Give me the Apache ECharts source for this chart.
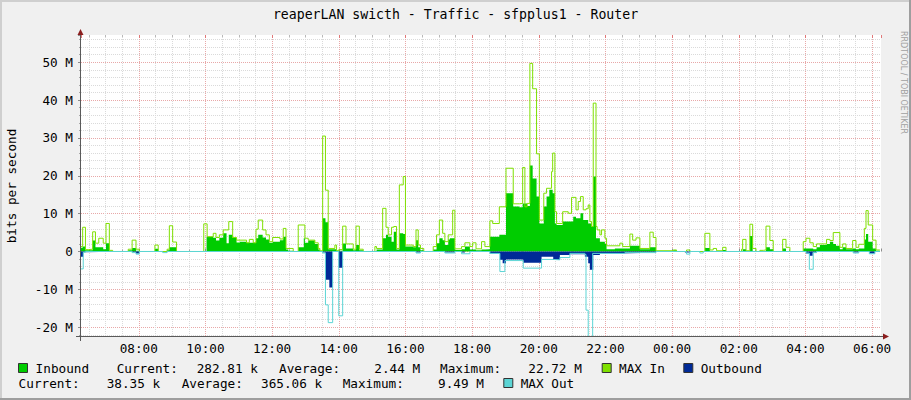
<!DOCTYPE html>
<html>
<head>
<meta charset="utf-8">
<script src="https://cdn.jsdelivr.net/npm/echarts@6/dist/echarts.min.js"></script>
<style>
html,body{margin:0;padding:0;background:#F0F0F0;}
#c{width:911px;height:400px;}
</style>
</head>
<body>
<div id="c"></div>
<script>
// ---------- data ----------
const TITLE = 'reaperLAN swicth - Traffic - sfpplus1 - Router';
const Y_NAME = 'bits per second';
const xTickLabels = ['08:00','10:00','12:00','14:00','16:00','18:00','20:00','22:00','00:00','02:00','04:00','06:00'];
const yTickLabels = ['-20 M','-10 M','0','10 M','20 M','30 M','40 M','50 M'];
const legendNames = ['Inbound','MAX In','Outbound','MAX Out'];
const statLabels = ['Current:','Average:','Maximum:'];
const inboundStats = ['282.81 k','2.44 M','22.72 M'];
const outboundStats = ['38.35 k','365.06 k','9.49 M'];

// step series: [clock time, value in Mbit/s]; each value holds until the next time
const inbound = [['06:16',1.0],['06:19',1.3],['06:24',0.3],['06:37',2.9],['06:42',1.1],['06:56',0.6],['07:01',2.2],['07:07',0.2],['07:13',0],['07:41',0.3],['07:48',0.9],['07:55',0.2],['08:01',0],['08:29',0.7],['08:35',0],['08:51',0.3],['08:55',1.1],['09:08',0],['10:02',3.9],['10:14',3.6],['10:19',2.9],['10:25',3.6],['10:32',4.8],['10:38',2.2],['10:42',4.4],['10:49',3.6],['10:56',2.4],['11:02',2.6],['11:14',2.3],['11:31',3.5],['11:35',4.4],['11:43',3.7],['11:49',3.2],['11:55',2.3],['12:01',2.6],['12:14',3.0],['12:20',3.9],['12:25',0.5],['12:29',0.2],['12:38',0],['12:47',1.1],['12:57',3.5],['12:59',2.3],['13:05',2.9],['13:17',2.0],['13:23',0.5],['13:26',0.1],['13:31',8.8],['13:36',7.7],['13:41',0.6],['13:56',0.2],['14:07',2.1],['14:13',0.8],['14:26',0.3],['14:31',1.7],['14:37',0.3],['14:44',0],['15:08',0.5],['15:19',3.5],['15:25',4.4],['15:29',3.9],['15:35',2.6],['15:39',5.2],['15:44',0.5],['15:49',4.8],['15:56',4.6],['16:00',1.3],['16:14',1.1],['16:19',3.0],['16:23',1.1],['16:27',0.3],['16:33',0],['16:50',0.5],['16:56',2.2],['17:01',3.5],['17:07',3.0],['17:11',1.7],['17:17',3.2],['17:20',3.5],['17:29',0.4],['17:41',0.6],['17:47',1.3],['17:56',0.5],['18:07',0.3],['18:17',0.5],['18:23',0.6],['18:32',3.9],['18:49',4.4],['19:01',15.4],['19:14',11.9],['19:25',11.7],['19:31',12.7],['19:39',12.0],['19:44',22.7],['19:49',19.3],['19:56',14.5],['20:01',7.4],['20:09',11.9],['20:14',14.5],['20:19',16.3],['20:25',15.4],['20:29',7.4],['20:32',7.0],['20:43',7.9],['21:02',9.2],['21:07',8.8],['21:15',10.1],['21:20',8.3],['21:29',7.4],['21:35',6.6],['21:38',19.8],['21:43',3.5],['21:50',2.6],['21:59',2.0],['22:02',0.6],['22:17',0.8],['22:44',1.5],['23:02',0.6],['23:20',1.1],['23:31',0],['00:02',0.3],['00:07',0],['00:59',0.9],['01:08',0.1],['01:31',0.4],['01:37',0],['02:07',0.6],['02:13',0],['02:20',4.1],['02:25',0.1],['02:31',0],['02:49',1.1],['02:56',0.6],['03:02',0],['03:19',0.8],['03:25',0.1],['03:32',0],['03:56',0.8],['04:14',0.6],['04:20',1.1],['04:26',1.7],['04:38',2.0],['04:44',2.6],['04:50',2.0],['04:55',1.5],['05:02',0.6],['05:07',1.1],['05:13',0.6],['05:25',0.8],['05:31',0.6],['05:36',0.8],['05:46',3.2],['05:49',4.6],['05:53',2.6],['06:01',0.8],['06:07',0.2],['06:14',0.2]];

const maxIn = [['06:16',1.3],['06:19',6.4],['06:24',0.5],['06:29',0.6],['06:37',5.2],['06:42',2.2],['06:48',3.5],['06:56',2.2],['07:01',7.4],['07:07',0.3],['07:13',0],['07:41',0.6],['07:48',3.0],['07:55',0.6],['08:01',0],['08:29',1.7],['08:35',0],['08:51',0.6],['08:55',6.8],['09:01',2.5],['09:08',0],['09:57',7.3],['10:03',3.9],['10:14',4.8],['10:19',3.7],['10:25',4.4],['10:32',5.7],['10:42',7.9],['10:49',3.7],['10:56',3.0],['11:14',2.3],['11:19',3.2],['11:26',2.3],['11:31',5.9],['11:35',8.3],['11:43',5.7],['11:49',4.4],['11:55',2.6],['12:01',3.7],['12:14',3.3],['12:20',6.1],['12:25',0.8],['12:38',0],['12:47',7.0],['12:59',3.5],['13:05',3.0],['13:17',2.3],['13:23',0.8],['13:26',0.2],['13:31',30.5],['13:36',16.2],['13:41',0.8],['13:53',1.7],['13:56',0.2],['14:00',0.5],['14:07',6.7],['14:13',2.0],['14:26',0.6],['14:31',6.7],['14:37',0.6],['14:44',0],['15:05',1.3],['15:08',0.8],['15:19',11.4],['15:25',6.4],['15:29',4.4],['15:35',6.4],['15:39',6.6],['15:44',0.8],['15:49',17.6],['15:56',19.8],['16:00',1.7],['16:14',1.3],['16:19',5.7],['16:23',1.7],['16:27',0.8],['16:33',0],['16:50',1.3],['16:56',4.4],['17:01',8.3],['17:07',4.8],['17:11',2.6],['17:17',4.4],['17:25',10.9],['17:29',0.7],['17:41',1.3],['17:47',2.3],['17:56',1.3],['18:01',2.3],['18:07',0.7],['18:17',2.6],['18:23',1.3],['18:32',8.1],['18:37',7.4],['18:49',11.8],['19:01',22.0],['19:14',12.6],['19:25',12.7],['19:31',22.2],['19:35',11.8],['19:39',12.7],['19:44',49.7],['19:49',43.0],['19:56',25.8],['20:01',8.3],['20:09',15.4],['20:14',16.7],['20:23',21.1],['20:25',26.0],['20:29',10.5],['20:32',7.4],['20:43',10.5],['20:53',10.1],['20:59',14.3],['21:07',11.0],['21:11',13.2],['21:15',14.5],['21:20',11.0],['21:25',11.3],['21:29',12.3],['21:32',7.9],['21:35',6.6],['21:38',39.2],['21:43',6.6],['21:45',5.7],['21:50',4.4],['21:53',5.7],['21:59',3.5],['22:02',1.5],['22:26',2.2],['22:31',1.3],['22:44',4.6],['22:49',3.0],['22:55',3.6],['23:02',0.8],['23:20',5.1],['23:26',3.7],['23:31',0.2],['00:02',0.4],['00:08',0],['00:26',0.4],['00:32',0],['00:59',4.8],['01:08',0.4],['01:14',0.8],['01:20',0.2],['01:31',1.1],['01:37',0],['02:05',0.6],['02:07',3.2],['02:13',0.2],['02:20',7.2],['02:25',0.8],['02:31',0],['02:38',0.3],['02:44',0.4],['02:49',6.7],['02:56',2.9],['03:02',0],['03:19',3.2],['03:25',1.1],['03:32',0],['03:56',2.6],['04:01',3.5],['04:08',2.3],['04:14',1.3],['04:20',2.0],['04:38',3.2],['04:44',2.9],['04:50',5.0],['05:02',1.1],['05:07',2.0],['05:13',0.8],['05:25',2.9],['05:31',1.1],['05:36',1.9],['05:46',6.1],['05:49',10.8],['05:53',7.0],['06:01',3.0],['06:07',0.4],['06:14',0.4]];

const outbound = [['06:16',-1.4],['06:20',-0.2],['06:24',-0.1],['07:13',0],['07:48',-0.2],['07:55',-0.5],['08:01',0],['13:31',-0.3],['13:36',-7.5],['13:43',-9.5],['13:49',0],['14:00',-4.3],['14:07',0],['16:19',-0.3],['16:27',0],['17:11',-0.3],['17:29',0],['17:41',-0.3],['17:47',0],['18:32',-0.5],['18:50',-2.2],['18:55',-3.1],['19:01',-2.1],['19:32',-3.0],['20:05',-1.4],['20:26',-2.2],['20:38',-0.9],['20:56',-0.7],['21:23',-1.4],['21:29',-3.1],['21:32',-4.8],['21:38',-0.9],['21:50',-0.5],['22:26',-0.4],['23:02',-0.2],['23:31',0],['00:23',-0.3],['00:32',0],['04:01',-0.5],['04:07',-1.1],['04:13',-0.3],['04:20',0],['05:26',-0.3],['05:36',0],['05:55',-0.5],['06:05',0],['06:14',0]];

const maxOut = [['06:16',-4.6],['06:20',-0.2],['06:24',0],['07:48',-0.3],['07:55',-0.7],['08:01',0],['08:43',-0.3],['08:51',0],['13:31',-0.4],['13:36',-14.1],['13:41',-18.8],['13:49',0],['14:00',-17.0],['14:07',0],['16:19',-0.4],['16:27',0],['17:11',-0.4],['17:29',0],['17:41',-0.6],['17:56',0],['18:32',-0.5],['18:50',-5.3],['18:59',-2.4],['19:32',-4.4],['20:05',-2.1],['20:26',-2.2],['20:38',-1.6],['20:56',-0.5],['21:23',-0.8],['21:25',-15.5],['21:29',-23.0],['21:37',-0.5],['22:35',-0.3],['23:31',0],['00:26',-0.7],['00:32',0],['00:50',-0.4],['00:56',0],['04:01',-0.4],['04:07',-4.7],['04:14',-0.3],['04:20',0],['05:26',-0.4],['05:36',0],['05:55',-0.6],['06:05',0],['06:14',0]];

// ---------- chart ----------
const START = 6 + 16 / 60;      // 06:16 (hours)
const END = START + 24;
const Y_MIN = -22.33, Y_MAX = 57.2;
const C_IN = '#00CC00', C_MAXIN = '#7FE000', C_OUT = '#002A97', C_MAXOUT = '#5CD5D5';
const MONO = '"DejaVu Sans Mono", monospace';
const FS = 12.7;

function toHour(s) {
  const p = s.split(':');
  let v = (+p[0]) + (+p[1]) / 60;
  if (v < START - 1e-6) v += 24;
  return v;
}
function toPoints(arr) { return arr.map(d => [toHour(d[0]), d[1]]); }
function fmtX(v) {
  const i = Math.round((v - 8) / 2);
  if (Math.abs(v - (8 + 2 * i)) > 1e-6 || i < 0 || i >= xTickLabels.length) return '';
  return xTickLabels[i];
}
function fmtY(v) {
  const i = Math.round(v / 10) + 2;
  if (Math.abs(v - (i - 2) * 10) > 1e-6 || i < 0 || i >= yTickLabels.length) return '';
  return yTickLabels[i];
}

const chart = echarts.init(document.getElementById('c'), null, { renderer: 'svg', width: 911, height: 400 });

const txt = (text, x, y, extra) => Object.assign({
  type: 'text', x: x, y: y, z: 100, silent: true,
  style: { text: text, font: FS + 'px ' + MONO, fill: '#000', align: 'left', verticalAlign: 'middle' }
}, extra || {});
const box = (x, y, color) => ({
  type: 'rect', z: 100, silent: true,
  shape: { x: x + 0.5, y: y + 0.5, width: 9, height: 9 },
  style: { fill: color, stroke: '#333', lineWidth: 1 }
});

const R1 = 368.5, R2 = 383.5;
const graphics = [
  { type: 'rect', z: 100, silent: true, shape: { x: 0, y: 0, width: 911, height: 2 }, style: { fill: '#CFCFCF' } },
  { type: 'rect', z: 100, silent: true, shape: { x: 0, y: 0, width: 2, height: 400 }, style: { fill: '#CFCFCF' } },
  { type: 'rect', z: 100, silent: true, shape: { x: 0, y: 398, width: 911, height: 2 }, style: { fill: '#9E9E9E' } },
  { type: 'rect', z: 100, silent: true, shape: { x: 909, y: 0, width: 2, height: 400 }, style: { fill: '#9E9E9E' } },
  txt(TITLE, 455.5, 14, { style: { text: TITLE, font: '13.2px ' + MONO, fill: '#000', align: 'center', verticalAlign: 'middle' } }),
  txt(Y_NAME, 11, 186, { rotation: Math.PI / 2, style: { text: Y_NAME, font: FS + 'px ' + MONO, fill: '#000', align: 'center', verticalAlign: 'middle' } }),
  txt('RRDTOOL / TOBI OETIKER', 903.5, 31, { rotation: -Math.PI / 2, style: { text: 'RRDTOOL / TOBI OETIKER', font: '8px "DejaVu Sans", sans-serif', fill: '#A0A0A0', align: 'left', verticalAlign: 'middle' } }),
  // axes with arrows
  { type: 'line', z: 100, silent: true, shape: { x1: 80.5, y1: 341, x2: 80.5, y2: 34 }, style: { stroke: '#5A5A5A', lineWidth: 1 } },
  { type: 'polygon', z: 100, silent: true, shape: { points: [[80.5, 29], [77.5, 35], [83.5, 35]] }, style: { fill: '#8B1E1E' } },
  { type: 'line', z: 100, silent: true, shape: { x1: 76, y1: 336.5, x2: 884, y2: 336.5 }, style: { stroke: '#5A5A5A', lineWidth: 1 } },
  { type: 'polygon', z: 100, silent: true, shape: { points: [[889, 336.5], [883, 333.5], [883, 339.5]] }, style: { fill: '#8B1E1E' } },
  // legend row 1
  box(18, 363, C_IN), txt(legendNames[0], 35.6, R1),
  txt(statLabels[0], 116.7, R1), txt(inboundStats[0], 196.7, R1),
  txt(statLabels[1], 279, R1), txt(inboundStats[1], 374.3, R1),
  txt(statLabels[2], 440, R1), txt(inboundStats[2], 528.3, R1),
  box(601.7, 363, C_MAXIN), txt(legendNames[1], 619, R1),
  box(683.3, 363, C_OUT), txt(legendNames[2], 700.7, R1),
  // legend row 2
  txt(statLabels[0], 18.6, R2), txt(outboundStats[0], 106.7, R2),
  txt(statLabels[1], 181.7, R2), txt(outboundStats[1], 261, R2),
  txt(statLabels[2], 342.7, R2), txt(outboundStats[2], 438, R2),
  box(503.3, 378, C_MAXOUT), txt(legendNames[3], 520.7, R2)
];

const xCommon = {
  type: 'value', min: START, max: END, splitNumber: 12, minInterval: 2, maxInterval: 2,
  axisLine: { show: false }
};

const option = {
  animation: false,
  backgroundColor: '#F0F0F0',
  grid: { left: 81, right: 30, top: 35, bottom: 64, show: true, backgroundColor: '#FFFFFF', borderWidth: 0 },
  xAxis: [
    Object.assign({}, xCommon, {
      position: 'bottom',
      axisTick: { show: true, inside: true, length: 3, lineStyle: { color: '#8C8C8C' } },
      minorTick: { show: true, splitNumber: 4, length: 2, lineStyle: { color: '#A8A8A8' } },
      axisLabel: { formatter: fmtX, showMinLabel: false, showMaxLabel: false, margin: 6, color: '#000', fontFamily: MONO, fontSize: FS },
      splitLine: { show: true, showMinLine: false, showMaxLine: false, lineStyle: { color: '#E8A8A8', type: [1, 1], width: 1 } },
      minorSplitLine: { show: true, lineStyle: { color: '#DADADA', type: [1, 1], width: 1 } }
    }),
    Object.assign({}, xCommon, {
      position: 'top',
      axisTick: { show: true, inside: true, length: 3, lineStyle: { color: '#E07878' } },
      minorTick: { show: true, splitNumber: 4, length: 2, lineStyle: { color: '#B8B8B8' } },
      axisLabel: { show: false },
      splitLine: { show: false }
    })
  ],
  yAxis: [{
    type: 'value', min: Y_MIN, max: Y_MAX, splitNumber: 8, minInterval: 10, maxInterval: 10,
    axisLine: { show: false },
    axisTick: { show: true, length: 3, lineStyle: { color: '#8C8C8C' } },
    minorTick: { show: true, splitNumber: 5, length: 2, lineStyle: { color: '#A8A8A8' } },
    axisLabel: { formatter: fmtY, showMinLabel: false, showMaxLabel: false, margin: 8, color: '#000', fontFamily: MONO, fontSize: FS },
    splitLine: { show: true, showMinLine: false, showMaxLine: false, lineStyle: { color: '#E8A8A8', type: [1, 1], width: 1 } },
    minorSplitLine: { show: true, lineStyle: { color: '#DADADA', type: [1, 1], width: 1 } }
  }],
  series: [
    { name: legendNames[0], type: 'line', step: 'end', data: toPoints(inbound), symbol: 'none', showSymbol: false,
      lineStyle: { width: 0, color: C_IN }, itemStyle: { color: C_IN }, areaStyle: { color: C_IN, opacity: 1 }, z: 2, silent: true },
    { name: legendNames[1], type: 'line', step: 'end', data: toPoints(maxIn), symbol: 'none', showSymbol: false,
      lineStyle: { width: 1, color: C_MAXIN }, itemStyle: { color: C_MAXIN }, z: 3, silent: true },
    { name: legendNames[2], type: 'line', step: 'end', data: toPoints(outbound), symbol: 'none', showSymbol: false,
      lineStyle: { width: 0, color: C_OUT }, itemStyle: { color: C_OUT }, areaStyle: { color: C_OUT, opacity: 1 }, z: 4, silent: true },
    { name: legendNames[3], type: 'line', step: 'end', data: toPoints(maxOut), symbol: 'none', showSymbol: false,
      lineStyle: { width: 1, color: C_MAXOUT }, itemStyle: { color: C_MAXOUT }, z: 5, silent: true }
  ],
  graphic: graphics
};
chart.setOption(option);
</script>
</body>
</html>
